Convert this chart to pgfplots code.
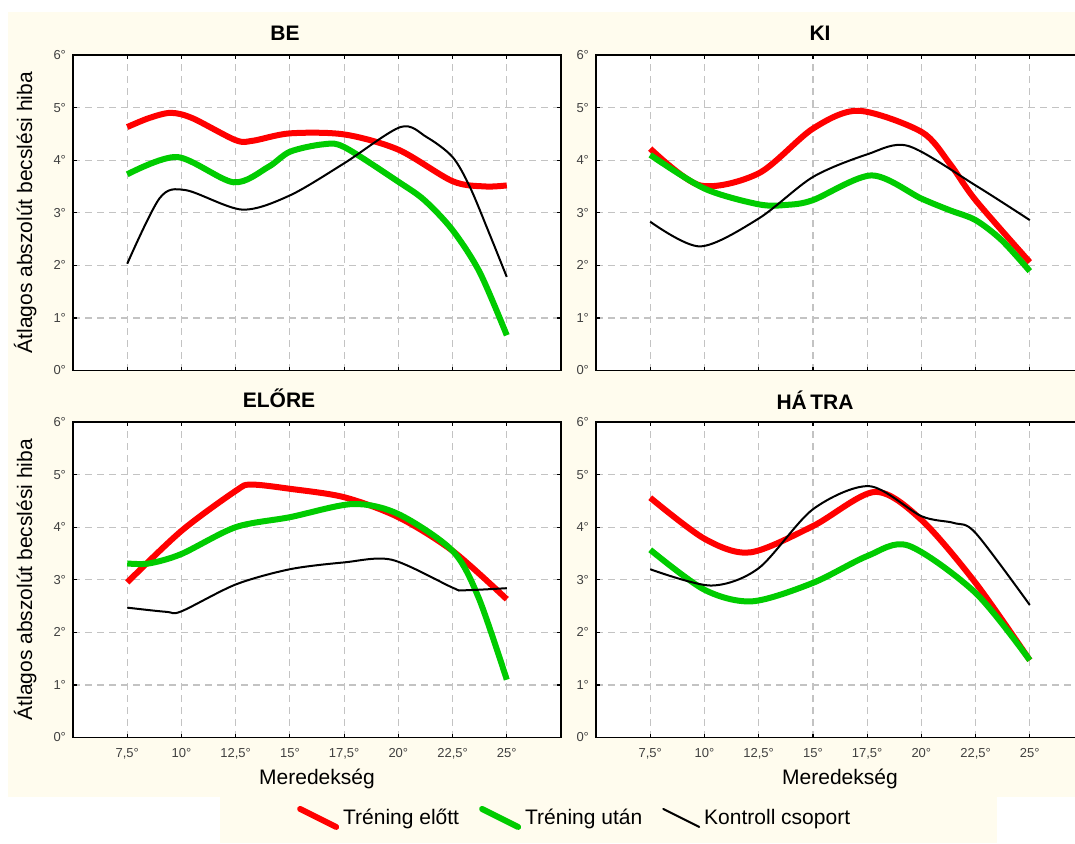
\documentclass[border=0pt]{standalone}
\usepackage{fontspec}
\setmainfont{Liberation Sans}
\usepackage{pgfplots}
\pgfplotsset{compat=1.18}

\definecolor{cream}{RGB}{255,252,238}
\definecolor{cred}{RGB}{255,0,0}
\definecolor{cgreen}{RGB}{0,204,0}
\definecolor{gridc}{RGB}{195,195,195}

\pgfplotsset{
  panel/.style={
    scale only axis, width=244pt, height=157.75pt,
    xmin=5, xmax=27.5, ymin=0, ymax=6,
    xtick={7.5,10,12.5,15,17.5,20,22.5,25},
    ytick={0,1,2,3,4,5,6},
    yticklabels={0°,1°,2°,3°,4°,5°,6°},
    grid=major,
    major grid style={gridc, dash pattern=on 3.5pt off 2.5pt, line width=0.6pt},
    axis line style={line width=0.9pt},
    tick style={black, line width=0.6pt},
    major tick length=2pt,
    tick align=inside,
    ticklabel style={font=\fontsize{6.5}{7}\selectfont, text=black!75},
    axis background/.style={fill=white},
    label style={font=\fontsize{10.5}{12}\selectfont},
  },
  xlab/.style={
    xticklabels={{7,5°},10°,{12,5°},15°,{17,5°},20°,{22,5°},25°},
    xticklabel style={yshift=-2pt},
    xlabel={Meredekség},
    xlabel style={at={(axis description cs:0.5,0)}, anchor=center, yshift=-20.5pt}},
  nox/.style={xticklabels={}},
  ylab/.style={ylabel={Átlagos abszolút becslési hiba},
    ylabel style={at={(axis description cs:-0.098,0.5)}, anchor=center}},
  pre/.style={cred, line width=3pt, smooth},
  post/.style={cgreen, line width=3pt, smooth},
  ctrl/.style={black, line width=1pt, smooth},
}

\begin{document}
\begin{tikzpicture}
\path[use as bounding box, clip] (0,0) rectangle (537.5pt,421.5pt);
\fill[white] (0,0) rectangle (537.5pt,421.5pt);
\fill[cream] (4pt,23pt) rectangle (537.5pt,415.5pt);
\fill[cream] (110pt,0pt) rectangle (498.5pt,23pt);

% BE
\begin{axis}[panel, nox, ylab, at={(36.5pt,236.25pt)}, anchor=south west]
\addplot[pre] coordinates {(7.5,4.63) (8.5,4.80) (9.5,4.90) (10.5,4.80) (12.5,4.38) (13.3,4.37) (15,4.51) (17.5,4.49) (20,4.20) (22.5,3.60) (24,3.50) (25,3.52)};
\addplot[post] coordinates {(7.5,3.73) (9.8,4.06) (12.4,3.58) (14,3.87) (15,4.16) (16.5,4.30) (17.5,4.25) (20,3.59) (21.2,3.24) (22.5,2.67) (23.75,1.87) (25,0.67)};
\addplot[ctrl] coordinates {(7.5,2.03) (9,3.28) (10.2,3.43) (12.8,3.06) (15,3.33) (17.5,3.94) (20.1,4.63) (21.3,4.44) (22.5,4.06) (23.3,3.49) (24.2,2.60) (25,1.78)};
\end{axis}

% KI
\begin{axis}[panel, nox, at={(298pt,236.25pt)}, anchor=south west]
\addplot[pre] coordinates {(7.5,4.22) (9.8,3.52) (12.5,3.75) (15,4.60) (17.1,4.94) (20,4.54) (21.3,3.94) (22.5,3.24) (25,2.06)};
\addplot[post] coordinates {(7.5,4.10) (10,3.46) (12.5,3.16) (13.8,3.15) (15,3.24) (17.7,3.71) (20,3.27) (21.3,3.05) (22.5,2.86) (23.7,2.48) (25,1.89)};
\addplot[ctrl] coordinates {(7.5,2.83) (9.8,2.36) (12.5,2.89) (15,3.68) (17.5,4.11) (19.4,4.27) (22.5,3.52) (25,2.86)};
\end{axis}

% ELORE
\begin{axis}[panel, xlab, ylab, at={(36.5pt,52.75pt)}, anchor=south west,
  legend style={at={(rel axis cs:1.03,-0.255)}, anchor=center, draw=none, fill=none,
    legend columns=3, font=\fontsize{10.5}{12}\selectfont,
    /tikz/every even column/.append style={column sep=8pt}},
  legend image code/.code={\draw[#1, line cap=round] (0pt,4.5pt) -- (18pt,-4.5pt);}]
\addplot[pre] coordinates {(7.5,2.95) (10,3.93) (12.5,4.69) (13.2,4.81) (15,4.73) (17.5,4.57) (20,4.19) (22.5,3.55) (25,2.63)};
\addplot[post] coordinates {(7.5,3.31) (8.5,3.31) (10,3.49) (12.5,4.0) (15,4.19) (17.9,4.44) (20,4.25) (22.5,3.55) (23.7,2.66) (25,1.10)};
\addplot[ctrl] coordinates {(7.5,2.47) (9.3,2.39) (10,2.40) (12.5,2.91) (15,3.20) (17.5,3.33) (19.7,3.38) (22.5,2.85) (23,2.80) (25,2.84)};
\legend{Tréning előtt, Tréning után, Kontroll csoport}
\end{axis}

% HATRA
\begin{axis}[panel, xlab, at={(298pt,52.75pt)}, anchor=south west]
\addplot[pre] coordinates {(7.5,4.56) (10,3.78) (12.1,3.52) (15,4.02) (17.85,4.67) (20,4.14) (22.5,2.94) (25,1.47)};
\addplot[post] coordinates {(7.5,3.57) (10,2.81) (12.2,2.59) (15,2.94) (17.5,3.45) (19.4,3.65) (22.5,2.75) (25,1.47)};
\addplot[ctrl] coordinates {(7.5,3.20) (10.3,2.89) (12.5,3.22) (15,4.34) (17.6,4.78) (20,4.21) (21.5,4.08) (22.5,3.89) (25,2.52)};
\end{axis}

\begin{scope}[every node/.style={font=\bfseries\fontsize{10.5}{12}\selectfont}]
\node at (142.5pt,405pt) {BE};
\node at (410pt,405pt) {KI};
\node at (139.5pt,222.5pt) {ELŐRE};
\node at (407.5pt,221.5pt) {HÁ\,TRA};
\end{scope}
\end{tikzpicture}
\end{document}
